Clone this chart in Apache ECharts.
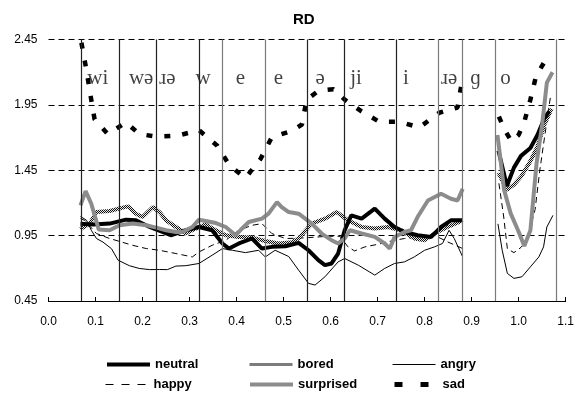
<!DOCTYPE html>
<html>
<head>
<meta charset="utf-8">
<script src="https://cdn.jsdelivr.net/npm/echarts@6/dist/echarts.min.js"></script>
<style>
  html, body { margin: 0; padding: 0; background: #fff; }
  #main { width: 577px; height: 394px; }
</style>
</head>
<body>
<div id="main"></div>
<script>
// segment boundaries (x positions of the vertical lines)
var boundaries = [0.068, 0.154, 0.228, 0.315, 0.367, 0.456, 0.551, 0.626, 0.736, 0.826, 0.883, 0.955, 1.079];
var boundaryGray = [false, false, false, false, true, true, false, false, false, true, true, true, true];

// phoneme labels above the curves
var phonemes = ['wi', 'wə', 'ɹə', 'w', 'e', 'e', 'ə', 'ji', 'i', 'ɹə', 'ɡ', 'o'];
var phonemeX = [0.105, 0.197, 0.253, 0.329, 0.408, 0.489, 0.578, 0.654, 0.760, 0.852, 0.908, 0.972];
var phonemeY = 2.15;

var xTicks = [0.0, 1.1, 0.1];   // min, max, step
var yTicks = [0.45, 2.45, 0.5];

// each series: first part (utterance) and second part (last syllable)
var neutralA = [[0.068,1.04],[0.095,1.036],[0.13,1.042],[0.165,1.072],[0.186,1.067],[0.215,1.016],[0.26,0.953],[0.292,0.991],[0.32,1.016],[0.348,0.991],[0.37,0.89],[0.384,0.851],[0.405,0.89],[0.433,0.928],[0.454,0.851],[0.475,0.864],[0.504,0.869],[0.532,0.895],[0.553,0.838],[0.574,0.762],[0.588,0.724],[0.602,0.737],[0.616,0.813],[0.63,0.991],[0.644,1.105],[0.666,1.08],[0.694,1.156],[0.715,1.08],[0.736,1.016],[0.757,0.978],[0.785,0.953],[0.814,0.94],[0.835,1.016],[0.856,1.067],[0.881,1.067]];
var neutralB = [[0.957,1.6],[0.975,1.33],[0.99,1.47],[1.005,1.56],[1.025,1.62],[1.04,1.72],[1.055,1.85],[1.065,1.9]];

var boredA = [[0.068,1.0],[0.088,1.042],[0.102,1.13],[0.13,1.138],[0.158,1.164],[0.169,1.174],[0.186,1.118],[0.2,1.092],[0.222,1.168],[0.236,1.13],[0.25,1.067],[0.271,1.016],[0.292,0.966],[0.313,1.004],[0.334,1.036],[0.356,0.991],[0.377,0.953],[0.405,0.94],[0.433,0.935],[0.461,0.909],[0.489,0.89],[0.518,0.9],[0.532,0.93],[0.56,1.042],[0.588,1.08],[0.613,1.13],[0.637,1.067],[0.666,1.016],[0.694,1.004],[0.722,1.016],[0.75,0.991],[0.778,0.928],[0.8,0.915],[0.821,0.966],[0.849,1.016],[0.881,1.067]];
var boredB = [[0.957,1.43],[0.975,1.3],[0.99,1.34],[1.005,1.4],[1.025,1.52],[1.04,1.63],[1.055,1.8],[1.07,1.92]];

var angryA = [[0.068,1.097],[0.081,1.067],[0.091,0.991],[0.102,0.928],[0.116,0.9],[0.134,0.85],[0.148,0.762],[0.172,0.72],[0.193,0.699],[0.215,0.69],[0.236,0.691],[0.253,0.69],[0.271,0.717],[0.292,0.72],[0.32,0.737],[0.348,0.8],[0.37,0.851],[0.391,0.838],[0.419,0.82],[0.447,0.838],[0.461,0.787],[0.482,0.838],[0.511,0.79],[0.532,0.686],[0.553,0.585],[0.567,0.572],[0.588,0.635],[0.616,0.749],[0.63,0.775],[0.659,0.724],[0.694,0.648],[0.715,0.699],[0.736,0.737],[0.757,0.749],[0.778,0.787],[0.8,0.838],[0.821,0.864],[0.838,0.89],[0.852,0.991],[0.863,0.928],[0.881,0.787]];
var angryB = [[0.956,1.04],[0.965,0.838],[0.976,0.661],[0.99,0.623],[1.007,0.635],[1.025,0.711],[1.043,0.787],[1.053,0.864],[1.06,1.016],[1.073,1.105]];

var happyA = [[0.068,1.08],[0.077,1.067],[0.102,0.966],[0.13,0.928],[0.179,0.876],[0.208,0.851],[0.236,0.838],[0.271,0.813],[0.306,0.787],[0.32,0.825],[0.348,0.876],[0.377,0.915],[0.405,0.991],[0.433,1.029],[0.454,1.042],[0.475,0.966],[0.504,0.928],[0.532,0.93],[0.553,0.935],[0.595,0.945],[0.62,0.945],[0.637,0.864],[0.651,0.833],[0.673,0.864],[0.701,0.884],[0.729,0.909],[0.757,0.928],[0.792,0.94],[0.821,0.953],[0.849,0.902],[0.881,0.851]];
var happyB = [[0.958,1.35],[0.968,1.1],[0.976,0.85],[0.99,0.82],[1.005,0.86],[1.018,0.92],[1.035,1.15],[1.045,1.45],[1.055,1.7],[1.068,2.02]];

var surprisedA = [[0.068,1.181],[0.079,1.29],[0.091,1.194],[0.107,0.996],[0.13,0.991],[0.151,1.029],[0.179,1.042],[0.208,1.029],[0.229,1.011],[0.25,0.991],[0.271,0.978],[0.285,0.978],[0.306,1.016],[0.32,1.072],[0.334,1.062],[0.356,1.046],[0.377,1.016],[0.398,0.953],[0.408,0.991],[0.426,1.054],[0.454,1.08],[0.468,1.118],[0.486,1.206],[0.496,1.168],[0.511,1.13],[0.532,1.118],[0.56,1.042],[0.581,0.966],[0.602,0.915],[0.616,0.89],[0.63,0.928],[0.641,0.991],[0.666,0.966],[0.694,0.94],[0.715,0.89],[0.726,0.851],[0.736,0.94],[0.757,0.978],[0.771,0.991],[0.785,1.092],[0.807,1.219],[0.835,1.27],[0.856,1.232],[0.87,1.219],[0.881,1.308]];
var surprisedB = [[0.955,1.72],[0.969,1.3],[0.983,1.12],[1.0,0.98],[1.012,0.87],[1.025,0.99],[1.038,1.5],[1.05,1.8],[1.06,2.12],[1.072,2.2]];

var sadA = [[0.07,2.425],[0.081,2.21],[0.089,2.03],[0.098,1.84],[0.126,1.727],[0.165,1.816],[0.193,1.727],[0.229,1.707],[0.274,1.714],[0.32,1.757],[0.359,1.638],[0.385,1.486],[0.419,1.39],[0.451,1.537],[0.475,1.702],[0.518,1.752],[0.539,1.8],[0.549,1.99],[0.574,2.057],[0.606,2.07],[0.63,1.99],[0.666,1.9],[0.704,1.82],[0.747,1.82],[0.789,1.777],[0.831,1.89],[0.87,1.93],[0.879,2.12]];
var sadB = [[0.958,1.86],[0.97,1.76],[0.985,1.67],[1.0,1.72],[1.012,1.82],[1.025,1.99],[1.037,2.17],[1.06,2.31]];

// glue the two parts with a gap
function join(a, b) {
    return a.concat([[0.92, '-']], b);
}

// hatched pattern for "bored"
var pc = document.createElement('canvas');
pc.width = 2; pc.height = 2;
var pctx = pc.getContext('2d');
pctx.fillStyle = '#e8e8e8';
pctx.fillRect(0, 0, 2, 2);
pctx.fillStyle = '#111';
pctx.fillRect(0, 0, 1, 1);
pctx.fillRect(1, 1, 1, 1);
var boredColor = { image: pc, repeat: 'repeat' };

var myChart = echarts.init(document.getElementById('main'), null, { renderer: 'canvas' });

var font = 'Liberation Sans, Arial, sans-serif';

function lineSeries(name, data, color, width, type) {
    return {
        name: name,
        type: 'line',
        data: data,
        symbol: 'none',
        connectNulls: false,
        lineStyle: { color: color, width: width, type: type || 'solid', cap: 'butt' },
        itemStyle: { color: color },
        z: 3
    };
}

// name, left, top, legend line width, legend dash
var legendPos = [
    ['neutral', 105, 358, 4, 'solid'], ['bored', 248, 358, 3, 'solid'], ['angry', 392, 358, 1, 'solid'],
    ['happy', 105, 378, 1, [8, 8]], ['surprised', 248, 378, 4, 'solid'], ['sad', 392, 378, 5, [8, 18]]
];

var option = {
    animation: false,
    title: {
        text: 'RD',
        left: 288,
        top: 7,
        textStyle: { fontFamily: font, fontSize: 15, fontWeight: 'bold', color: '#000' }
    },
    legend: legendPos.map(function (p) {
        return {
            data: [p[0]],
            left: p[1],
            top: p[2],
            padding: 0,
            itemWidth: 43,
            itemHeight: 14,
            itemGap: 0,
            selectedMode: false,
            itemStyle: { opacity: 0 },
            lineStyle: { width: p[3], type: p[4], cap: 'butt' },
            textStyle: { fontFamily: font, fontSize: 13, fontWeight: 'bold', color: '#000' }
        };
    }),
    grid: { left: 48.5, right: 8, top: 39.5, bottom: 93 },
    xAxis: {
        type: 'value',
        min: xTicks[0],
        max: xTicks[1],
        interval: xTicks[2],
        axisLine: { lineStyle: { color: '#000', width: 1 } },
        axisTick: { inside: true, length: 4, lineStyle: { color: '#000' } },
        splitLine: { show: false },
        axisLabel: {
            margin: 15,
            color: '#000',
            fontFamily: font,
            fontSize: 12,
            formatter: function (v) { return v.toFixed(1); }
        }
    },
    yAxis: {
        type: 'value',
        min: yTicks[0],
        max: yTicks[1],
        interval: yTicks[2],
        axisLine: { show: false },
        axisTick: { show: false },
        splitLine: { lineStyle: { color: '#000', width: 1, type: [6, 4] } },
        axisLabel: {
            margin: 11,
            color: '#000',
            fontFamily: font,
            fontSize: 12,
            formatter: function (v) { return v.toFixed(2); }
        }
    },
    series: [
        {
            name: 'phonemes',
            type: 'scatter',
            symbolSize: 0,
            silent: true,
            data: phonemes.map(function (t, i) { return { value: [phonemeX[i], phonemeY], name: t }; }),
            label: {
                show: true,
                position: 'inside',
                formatter: '{b}',
                fontFamily: 'Liberation Serif, Times New Roman, serif',
                fontSize: 21,
                color: '#111'
            },
            markLine: {
                silent: true,
                symbol: 'none',
                label: { show: false },
                lineStyle: { type: 'solid', width: 1.2 },
                data: boundaries.map(function (b, i) {
                    return { xAxis: b, lineStyle: { color: boundaryGray[i] ? '#7a7a7a' : '#222', type: 'solid', width: 1.2 } };
                })
            },
            z: 1
        },
        lineSeries('angry', join(angryA, angryB), '#000', 1),
        lineSeries('happy', join(happyA, happyB), '#000', 1, [6, 4]),
        lineSeries('bored', join(boredA, boredB), boredColor, 4),
        lineSeries('neutral', join(neutralA, neutralB), '#000', 4),
        lineSeries('surprised', join(surprisedA, surprisedB), '#8c8c8c', 4),
        lineSeries('sad', join(sadA, sadB), '#000', 4.5, [6, 12])
    ]
};

myChart.setOption(option);
</script>
</body>
</html>
